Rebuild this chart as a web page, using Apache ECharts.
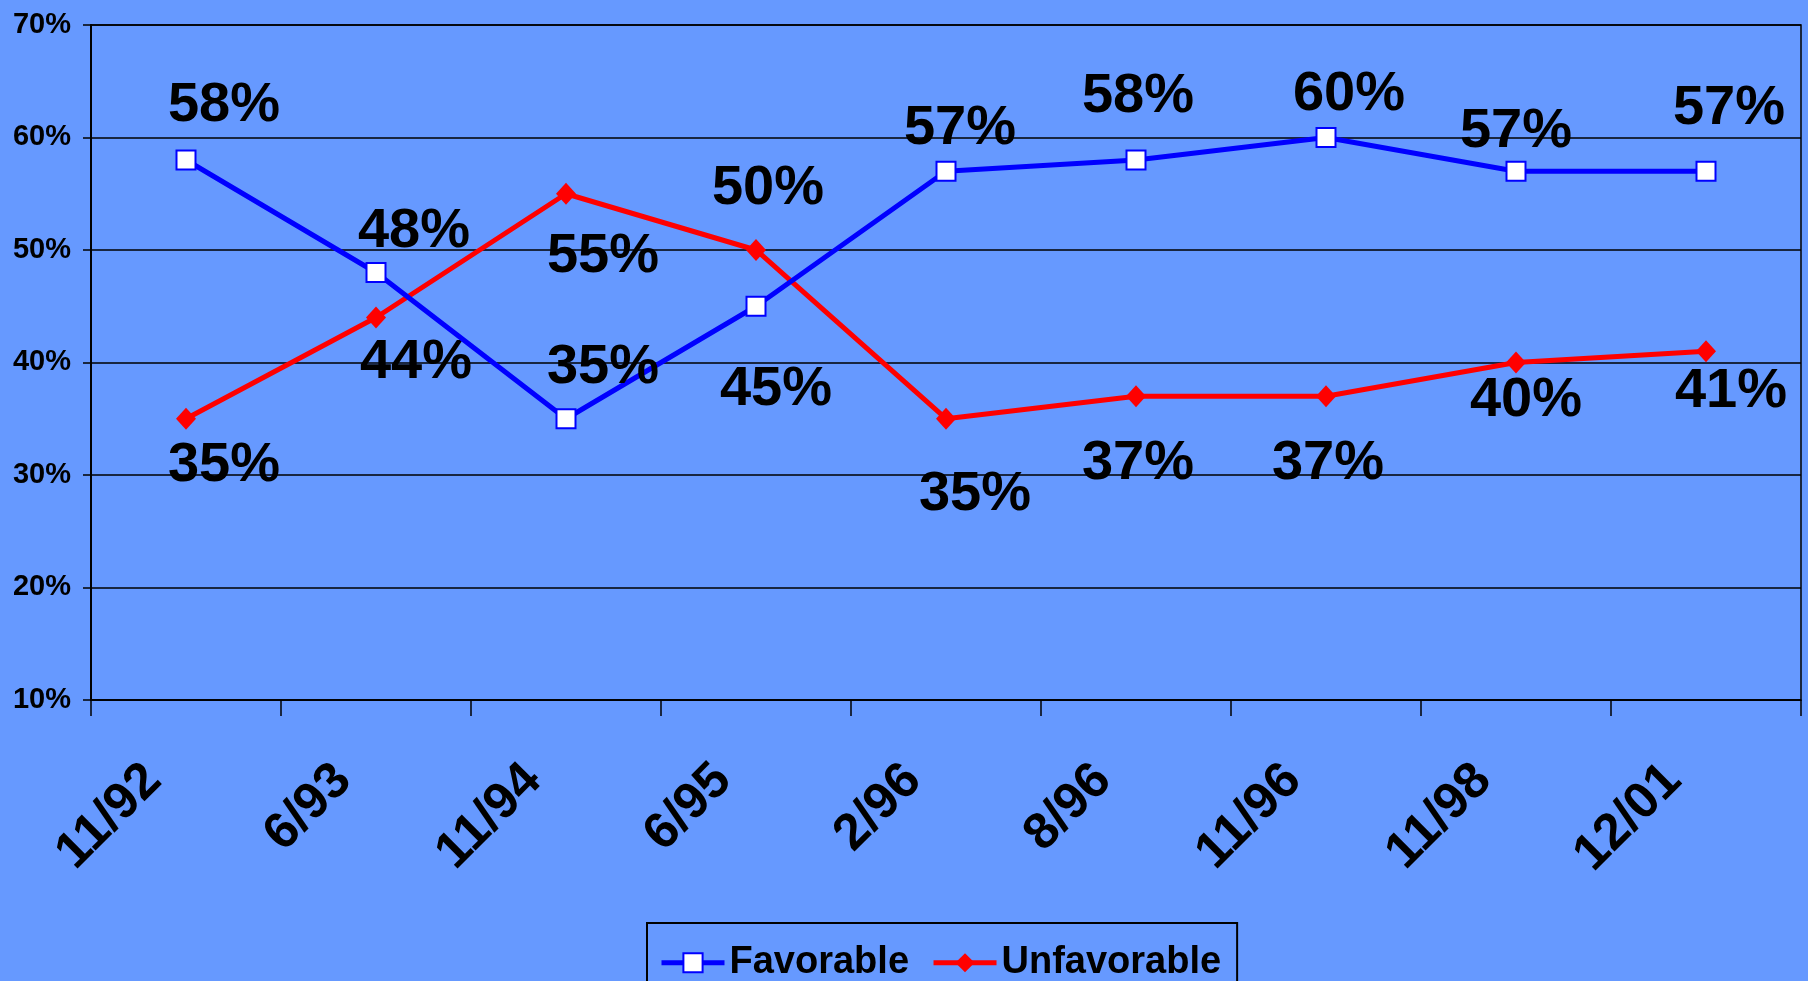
<html>
<head>
    <script src="https://cdn.jsdelivr.net/npm/echarts@6/dist/echarts.min.js"></script>
    <style>
        body { margin: 0; background: #6699ff; }
    </style>
</head>
<body>
    <div id="main" style="width: 1808px;height:981px;"></div>
    <script>
        var dates = ['11/92', '6/93', '11/94', '6/95', '2/96', '8/96', '11/96', '11/98', '12/01'];
        var favorable = [58, 48, 35, 45, 57, 58, 60, 57, 57];
        var unfavorable = [35, 44, 55, 50, 35, 37, 37, 40, 41];
        var yTicks = [10, 20, 30, 40, 50, 60, 70];

        // where each value label sits relative to its point (px)
        var favOffsets = [[38, -54], [38, -41], [37, -51], [20, 83], [14, -43], [2, -63], [23, -43], [0, -40], [23, -63]];
        var unfavOffsets = [[38, 47], [40, 45], [37, 63], [12, -61], [29, 76], [2, 67], [2, 67], [10, 38], [25, 40]];

        var font = 'Liberation Sans, Arial, sans-serif';

        function buildData(values, offsets) {
            var out = [];
            for (var i = 0; i < values.length; i++) {
                out.push({
                    value: values[i],
                    label: { offset: offsets[i] }
                });
            }
            return out;
        }

        var labelStyle = {
            show: true,
            position: 'inside',
            formatter: '{c}%',
            color: '#000',
            fontFamily: font,
            fontWeight: 'bold',
            fontSize: 56
        };

        var myChart = echarts.init(document.getElementById('main'));
        var option = {
            backgroundColor: '#6699ff',
            animation: false,
            grid: {
                left: 91,
                right: 7,
                top: 21,
                bottom: 281,
                show: true,
                borderColor: '#000',
                borderWidth: 1.5,
                backgroundColor: 'transparent'
            },
            legend: {
                left: 647,
                top: 923,
                padding: [7, 16, 40, 12],
                borderColor: '#000',
                borderWidth: 2,
                itemWidth: 63,
                itemHeight: 24,
                itemGap: 22,
                lineStyle: { width: 5 },
                textStyle: {
                    color: '#000',
                    fontFamily: font,
                    fontWeight: 'bold',
                    fontSize: 38
                },
                data: ['Favorable', 'Unfavorable']
            },
            xAxis: {
                type: 'category',
                data: dates,
                boundaryGap: true,
                axisLine: { lineStyle: { color: '#000', width: 1.5 } },
                axisTick: { show: true, length: 16, lineStyle: { color: '#000', width: 1.5 } },
                axisLabel: {
                    rotate: 45,
                    margin: 40,
                    padding: [0, 46, 0, 0],
                    color: '#000',
                    fontFamily: font,
                    fontWeight: 'bold',
                    fontSize: 51
                },
                splitLine: { show: false }
            },
            yAxis: {
                type: 'value',
                min: yTicks[0],
                max: yTicks[yTicks.length - 1],
                interval: 10,
                axisLine: { show: true, lineStyle: { color: '#000', width: 2 } },
                axisTick: { show: true, length: 8, lineStyle: { color: '#000', width: 1.5 } },
                axisLabel: {
                    formatter: '{value}%',
                    margin: 20,
                    color: '#000',
                    fontFamily: font,
                    fontWeight: 'bold',
                    fontSize: 29
                },
                splitLine: { show: true, lineStyle: { color: '#000', width: 1.5 } }
            },
            series: [{
                name: 'Favorable',
                type: 'line',
                data: buildData(favorable, favOffsets),
                symbol: 'rect',
                symbolSize: 19,
                lineStyle: { color: '#0000ff', width: 5 },
                itemStyle: { color: '#ffffff', borderColor: '#0000ff', borderWidth: 2 },
                label: labelStyle,
                z: 3
            }, {
                name: 'Unfavorable',
                type: 'line',
                data: buildData(unfavorable, unfavOffsets),
                symbol: 'diamond',
                symbolSize: [20, 22],
                lineStyle: { color: '#ff0000', width: 5 },
                itemStyle: { color: '#ff0000', borderColor: '#ff0000', borderWidth: 0 },
                label: labelStyle,
                z: 2
            }]
        };
        myChart.setOption(option);
    </script>
</body>
</html>
